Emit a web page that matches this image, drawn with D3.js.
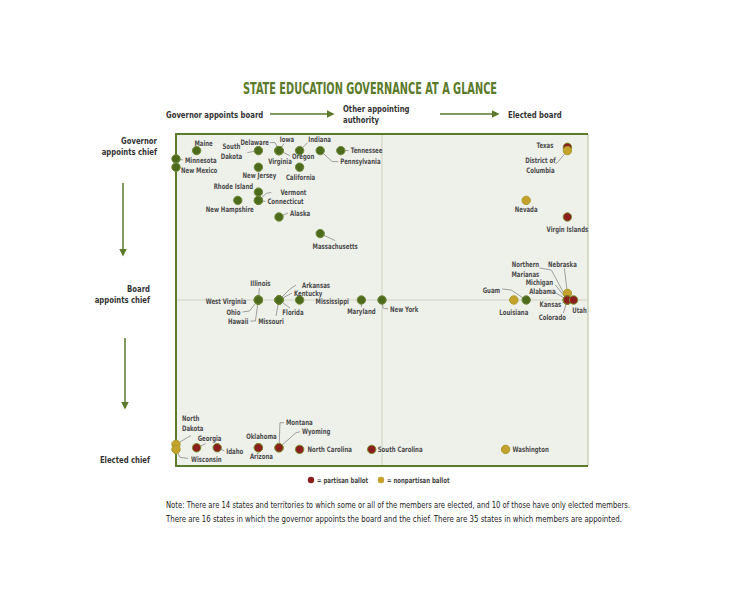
<!DOCTYPE html>
<html>
<head>
  <title>State Education Governance at a Glance</title>
  <script src="https://d3js.org/d3.v7.min.js"></script>
  <style>
    body { margin: 0; background: #fff; }
    svg text { font-family: "Liberation Sans Narrow", "DejaVu Sans Condensed", "Roboto", sans-serif; }
    .lbl { font-size: 7.5px; font-weight: bold; fill: #4d4d4d; }
    .hdr { font-size: 9px; font-weight: bold; fill: #333; }
  </style>
</head>
<body>
<div id="chart"></div>
<script>

// data: board selection (0 = governor appoints ... 100 = elected), chief selection (0 = governor ... 100 = elected)
const states = ["Minnesota", "New Mexico", "Maine", "South Dakota", "Delaware", "Iowa", "Virginia", "Oregon",
  "Indiana", "Pennsylvania", "Tennessee", "New Jersey", "California", "Rhode Island", "Vermont", "Connecticut",
  "New Hampshire", "Alaska", "Massachusetts", "West Virginia", "Ohio", "Hawaii", "Illinois", "Arkansas",
  "Kentucky", "Florida", "Missouri", "Mississippi", "Maryland", "New York", "Louisiana", "Guam", "Nebraska",
  "Northern Marianas", "Michigan", "Alabama", "Kansas", "Colorado", "Utah", "Texas", "District of Columbia",
  "Nevada", "Virgin Islands", "North Dakota", "Wisconsin", "Georgia", "Idaho", "Oklahoma", "Arizona",
  "Montana", "Wyoming", "North Carolina", "South Carolina", "Washington"];
const boardX = [0, 0, 5, 20, 25, 25, 25, 25,
  30, 35, 40, 20, 30, 20, 20, 20,
  15, 25, 35, 20, 20, 20, 20, 25,
  25, 25, 25, 30, 45, 50, 82, 85, 95,
  95, 95, 95, 95, 95, 96.5, 95, 95,
  85, 95, 0, 0, 5, 10, 20, 20,
  25, 25, 30, 47.5, 80];
const chiefY = [7.5, 10, 5, 5, 5, 5, 5, 5,
  5, 5, 5, 10, 10, 17.5, 20, 20,
  20, 25, 30, 50, 50, 50, 50, 50,
  50, 50, 50, 50, 50, 50, 50, 50, 48,
  50, 50, 50, 50, 50, 50, 4, 5,
  20, 25, 93.5, 95, 94.5, 94.5, 94.5, 94.5,
  94.5, 94.5, 95, 95, 95];
// a = appointed board, p = partisan ballot, n = nonpartisan ballot
const ballot = ["a", "a", "a", "a", "a", "a", "a", "a",
  "a", "a", "a", "a", "a", "a", "a", "a",
  "a", "a", "a", "a", "a", "a", "a", "a",
  "a", "a", "a", "a", "a", "a", "n", "a", "n",
  "p", "p", "p", "p", "p", "p", "p", "n",
  "n", "p", "n", "n", "p", "p", "p", "p",
  "p", "p", "p", "p", "n"];

const boardSteps = ["Governor appoints board", "Other appointing|authority", "Elected board"];
const chiefSteps = ["Governor|appoints chief", "Board|appoints chief", "Elected chief"];
const legendItems = [{ key: "p", text: "= partisan ballot" }, { key: "n", text: "= nonpartisan ballot" }];
const noteLines = [
  "Note: There are 14 states and territories to which some or all of the members are elected, and 10 of those have only elected members.",
  "There are 16 states in which the governor appoints the board and the chief. There are 35 states in which members are appointed."
];

// label placement (pixels relative to the dot), leader = polyline from the dot
const labelPos = {
  "Minnesota": { dx: 9, dy: 1, a: "start", leader: [[0, 0], [7, 1]] },
  "New Mexico": { dx: 5, dy: 3, a: "start" },
  "Maine": { dx: 7, dy: -7, a: "middle" },
  "South Dakota": { dx: -27, dy: -4, a: "middle", lines: ["South", "Dakota"], leader: [[0, 0], [-11, 2]] },
  "Delaware": { dx: -10, dy: -8, a: "end", leader: [[0, 0], [-4, -8], [-9, -8]] },
  "Iowa": { dx: 8, dy: -11, a: "middle", leader: [[0, 0], [5, -7]] },
  "Virginia": { dx: 1, dy: 11, a: "middle" },
  "Oregon": { dx: 13, dy: 6, a: "start", leader: [[0, 0], [11, 5]] },
  "Indiana": { dx: 20, dy: -11, a: "middle", leader: [[0, 0], [8, -8]] },
  "Pennsylvania": { dx: 20, dy: 11, a: "start", leader: [[0, 0], [12, 11], [18, 11]] },
  "Tennessee": { dx: 10, dy: 0, a: "start", leader: [[0, 0], [8, 0]] },
  "New Jersey": { dx: 1, dy: 8, a: "middle" },
  "California": { dx: 1, dy: 10, a: "middle" },
  "Rhode Island": { dx: -25, dy: -6, a: "middle" },
  "Vermont": { dx: 22, dy: -8, a: "start", leader: [[0, 0], [8, -7], [13, -8]] },
  "Connecticut": { dx: 9, dy: 1, a: "start", leader: [[0, 0], [7, 1]] },
  "New Hampshire": { dx: -8, dy: 9, a: "middle" },
  "Alaska": { dx: 11, dy: -4, a: "start", leader: [[0, 0], [9, -4]] },
  "Massachusetts": { dx: 15, dy: 13, a: "middle", leader: [[0, 0], [15, 7]] },
  "West Virginia": { dx: -12, dy: 1, a: "end" },
  "Ohio": { dx: -18, dy: 12, a: "end", leader: [[0, 0], [-9, 11], [-16, 12]] },
  "Hawaii": { dx: -10, dy: 21, a: "end", leader: [[0, 0], [-3, 21], [-8, 21]] },
  "Illinois": { dx: 2, dy: -17, a: "middle", leader: [[0, 0], [1, -12]] },
  "Arkansas": { dx: 23, dy: -15, a: "start", leader: [[0, 0], [11, -11], [17, -15]] },
  "Kentucky": { dx: 15, dy: -7, a: "start", leader: [[0, 0], [13, -7]] },
  "Florida": { dx: 14, dy: 12, a: "middle", leader: [[0, 0], [11, 8]] },
  "Missouri": { dx: -8, dy: 21, a: "middle", leader: [[0, 0], [-3, 16]] },
  "Mississippi": { dx: 16, dy: 1, a: "start" },
  "Maryland": { dx: 0, dy: 11, a: "middle", leader: [[0, 0], [0, 7]] },
  "New York": { dx: 8, dy: 9, a: "start", leader: [[0, 0], [1, 8], [6, 9]] },
  "Louisiana": { dx: 0, dy: 12, a: "middle" },
  "Guam": { dx: -26, dy: -10, a: "end", leader: [[0, 0], [-15, -10], [-24, -11]] },
  "Nebraska": { dx: -5, dy: -29, a: "middle", leader: [[0, 0], [-3, -25]] },
  "Northern Marianas": { dx: -42, dy: -36, a: "middle", lines: ["Northern", "Marianas"], leader: [[0, 0], [-16, -30], [-28, -32]] },
  "Michigan": { dx: -28, dy: -18, a: "middle", leader: [[0, 0], [-12, -15]] },
  "Alabama": { dx: -25, dy: -9, a: "middle", leader: [[0, 0], [-13, -8]] },
  "Kansas": { dx: -17, dy: 4, a: "middle", leader: [[0, 0], [-5, 3]] },
  "Colorado": { dx: -15, dy: 17, a: "middle", leader: [[0, 0], [-4, 13]] },
  "Utah": { dx: 6, dy: 10, a: "middle" },
  "Texas": { dx: -14, dy: -2, a: "end" },
  "District of Columbia": { dx: -27, dy: 10, a: "middle", lines: ["District of", "Columbia"], leader: [[0, 0], [-10, 12], [-12, 13]] },
  "Nevada": { dx: 0, dy: 9, a: "middle" },
  "Virgin Islands": { dx: 0, dy: 12, a: "middle" },
  "North Dakota": { dx: 6, dy: -26, a: "start", lines: ["North", "Dakota"], leader: [[0, 0], [15, -9]] },
  "Wisconsin": { dx: 15, dy: 10, a: "start", leader: [[0, 0], [4, 8], [12, 9]] },
  "Georgia": { dx: 13, dy: -9, a: "middle", leader: [[0, 0], [9, -4]] },
  "Idaho": { dx: 9, dy: 4, a: "start", leader: [[0, 0], [7, 3]] },
  "Oklahoma": { dx: 3, dy: -11, a: "middle" },
  "Arizona": { dx: 3, dy: 9, a: "middle" },
  "Montana": { dx: 7, dy: -25, a: "start", leader: [[0, 0], [1, -25], [5, -25]] },
  "Wyoming": { dx: 23, dy: -16, a: "start", leader: [[0, 0], [17, -15], [21, -16]] },
  "North Carolina": { dx: 8, dy: 0, a: "start" },
  "South Carolina": { dx: 6, dy: 0, a: "start" },
  "Washington": { dx: 7, dy: 0, a: "start" }
};

const width = 750, height = 595;
const frame = { left: 176, top: 134, right: 588, bottom: 466 };
const green = "#5b7a2a";
const fillColor = { a: "#4e6a1c", p: "#8a1f1b", n: "#c4a22c" };
const strokeColor = { a: "#6f8a3a", p: "#7d8a2e", n: "#a99a2c" };

const svg = d3.select("#chart").append("svg")
  .attr("width", width)
  .attr("height", height);

// squeeze text horizontally, no condensed font is installed
function condense(sel, k) {
  sel.each(function () {
    const w = this.getComputedTextLength();
    d3.select(this).attr("textLength", w * k).attr("lengthAdjust", "spacingAndGlyphs");
  });
}

const defs = svg.append("defs");
defs.append("marker")
  .attr("id", "arrow")
  .attr("viewBox", "0 0 10 10")
  .attr("refX", 8).attr("refY", 5)
  .attr("markerWidth", 5).attr("markerHeight", 5)
  .attr("orient", "auto")
  .append("path").attr("d", "M0,0 L10,5 L0,10 z").attr("fill", green);

const x = d3.scaleLinear().domain([0, 100]).range([frame.left, frame.right]);
const y = d3.scaleLinear().domain([0, 100]).range([frame.top, frame.bottom]);

// title
svg.append("text")
  .attr("x", 370).attr("y", 94)
  .attr("text-anchor", "middle")
  .attr("textLength", 254).attr("lengthAdjust", "spacingAndGlyphs")
  .style("font-size", "15px").style("font-weight", "bold").style("fill", green)
  .text("STATE EDUCATION GOVERNANCE AT A GLANCE");

// header steps along the top
const hdrX = [166, 343, 508];
boardSteps.forEach((s, i) => {
  const parts = s.split("|");
  const t = svg.append("text").attr("class", "hdr").attr("x", hdrX[i])
    .attr("y", parts.length > 1 ? 112 : 118);
  parts.forEach((p, j) => t.append("tspan").attr("x", hdrX[i]).attr("dy", j ? 11 : 0).text(p));
});
[[270, 333], [440, 498]].forEach(a => {
  svg.append("line").attr("x1", a[0]).attr("x2", a[1]).attr("y1", 114).attr("y2", 114)
    .attr("stroke", green).attr("stroke-width", 1.5).attr("marker-end", "url(#arrow)");
});

// chief steps down the left
const chiefPos = [[157, 144], [150, 292], [150, 463]];
chiefSteps.forEach((s, i) => {
  const parts = s.split("|");
  const t = svg.append("text").attr("class", "hdr").attr("text-anchor", "end")
    .attr("x", chiefPos[i][0]).attr("y", chiefPos[i][1]);
  parts.forEach((p, j) => t.append("tspan").attr("x", chiefPos[i][0]).attr("dy", j ? 11 : 0).text(p));
});
[[123, 183, 255], [125, 338, 408]].forEach(a => {
  svg.append("line").attr("x1", a[0]).attr("x2", a[0]).attr("y1", a[1]).attr("y2", a[2])
    .attr("stroke", green).attr("stroke-width", 1.5).attr("marker-end", "url(#arrow)");
});
condense(svg.selectAll(".hdr tspan"), 0.85);

// plot frame
svg.append("rect")
  .attr("x", x(0)).attr("y", y(0))
  .attr("width", x(100) - x(0)).attr("height", y(100) - y(0))
  .attr("fill", "#eef0ea");
svg.append("line").attr("x1", x(50)).attr("x2", x(50)).attr("y1", y(0)).attr("y2", y(100))
  .attr("stroke", "#cdd3c2").attr("stroke-width", 1);
svg.append("line").attr("x1", x(0)).attr("x2", x(100)).attr("y1", y(50)).attr("y2", y(50))
  .attr("stroke", "#cdd3c2").attr("stroke-width", 1);
svg.append("line").attr("x1", x(100)).attr("x2", x(100)).attr("y1", y(0)).attr("y2", y(100))
  .attr("stroke", "#c9d2b6").attr("stroke-width", 1.5);
svg.append("path")
  .attr("d", `M${x(100)},${y(0)} H${x(0)} V${y(100)} H${x(100)}`)
  .attr("fill", "none").attr("stroke", green).attr("stroke-width", 2);

const pts = states.map((s, i) => ({ name: s, bx: boardX[i], cy: chiefY[i], kind: ballot[i] }));

// leader lines
const line = d3.line();
svg.append("g").selectAll("path")
  .data(pts.filter(d => labelPos[d.name] && labelPos[d.name].leader))
  .join("path")
  .attr("d", d => line(labelPos[d.name].leader.map(p => [x(d.bx) + p[0], y(d.cy) + p[1]])))
  .attr("fill", "none").attr("stroke", "#8a8a8a").attr("stroke-width", 0.8);

// dots
svg.append("g").selectAll("circle")
  .data(pts)
  .join("circle")
  .attr("cx", d => x(d.bx))
  .attr("cy", d => y(d.cy))
  .attr("r", 4.2)
  .attr("fill", d => fillColor[d.kind])
  .attr("stroke", d => strokeColor[d.kind])
  .attr("stroke-width", 1);

// labels
pts.forEach(d => {
  const lp = labelPos[d.name];
  if (!lp) return;
  const lines = lp.lines || [d.name];
  const t = svg.append("text").attr("class", "lbl")
    .attr("text-anchor", lp.a)
    .attr("x", x(d.bx) + lp.dx)
    .attr("y", y(d.cy) + lp.dy + 2.7);
  lines.forEach((l, j) => t.append("tspan").attr("x", x(d.bx) + lp.dx).attr("dy", j ? 10 : 0).text(l));
});

// legend
const legX = [311, 381];
legendItems.forEach((it, i) => {
  svg.append("circle").attr("cx", legX[i]).attr("cy", 480).attr("r", 3.2)
    .attr("fill", fillColor[it.key]);
  svg.append("text").attr("class", "lbl").attr("x", legX[i] + 6).attr("y", 482.7)
    .append("tspan").style("fill", "#444").text(it.text);
});
condense(svg.selectAll(".lbl tspan"), 0.8);

// note
noteLines.forEach((l, i) => {
  svg.append("text")
    .attr("x", 166).attr("y", 508 + i * 14)
    .attr("textLength", i ? 456 : 464).attr("lengthAdjust", "spacingAndGlyphs")
    .style("font-size", "9px").style("fill", "#222")
    .text(l);
});
</script>
</body>
</html>
